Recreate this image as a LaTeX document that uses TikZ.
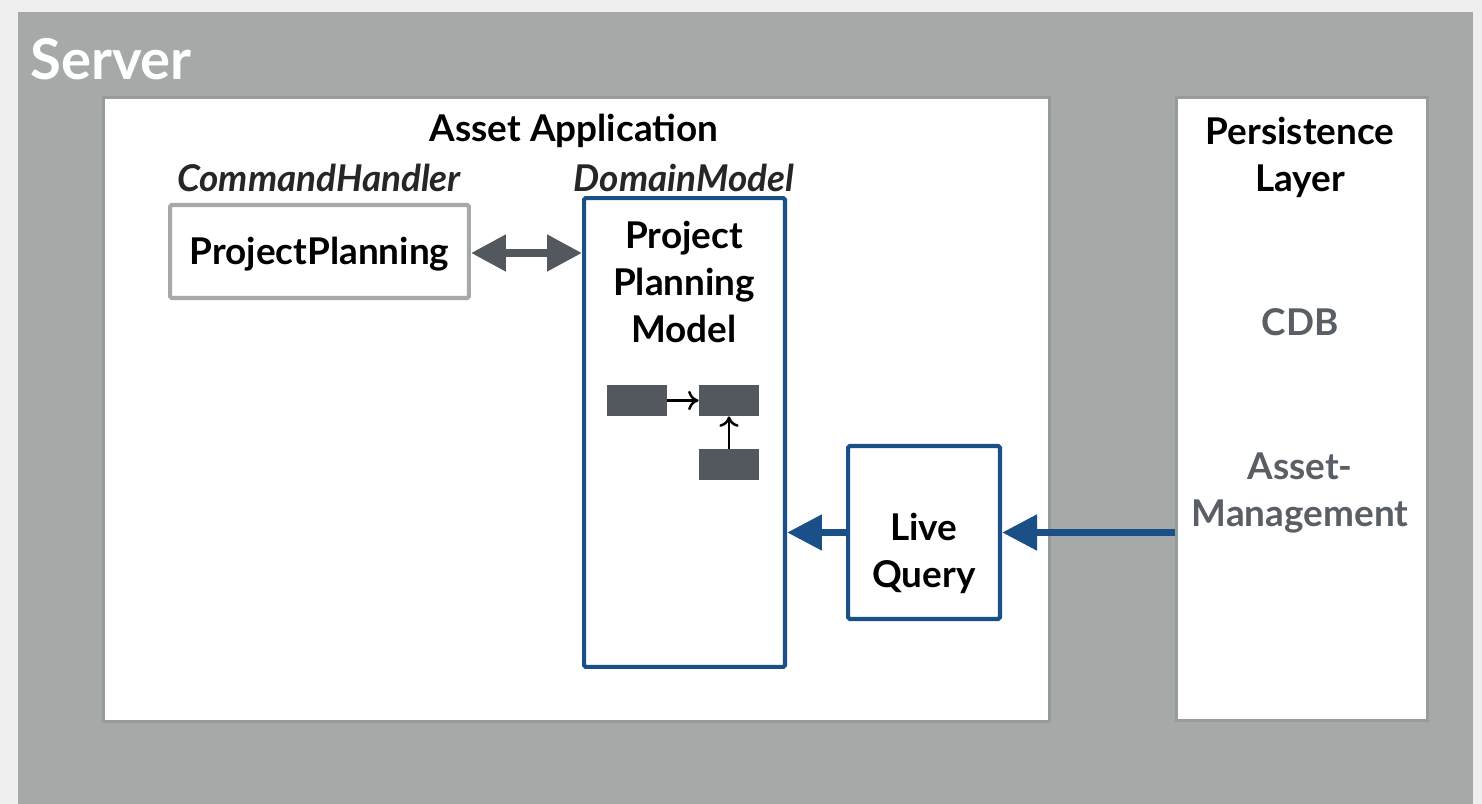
\documentclass[tikz,border=0pt]{standalone}
\usepackage{fontspec}
\setmainfont{Lato}
\usetikzlibrary{arrows.meta,positioning}
\definecolor{pagegrey}{HTML}{EFEFEF}
\definecolor{servergrey}{HTML}{A5A9A8}
\definecolor{edgegrey}{HTML}{979B9A}
\definecolor{modelblue}{HTML}{1B4F87}
\definecolor{slate}{HTML}{53575E}
\definecolor{labelgrey}{HTML}{5A5E65}
\tikzset{
  panel/.style={draw=edgegrey, line width=1.6pt, fill=white, anchor=north west, inner sep=0pt},
  greybox/.style={draw=servergrey, line width=2.3pt, fill=white, rounded corners=1pt},
  bluebox/.style={draw=modelblue, line width=2.3pt, fill=white, rounded corners=1pt},
  entity/.style={fill=slate, minimum width=1.2cm, minimum height=0.62cm, inner sep=0pt},
  txt/.style={font=\fontsize{21}{26.7}\selectfont\bfseries, align=center, inner sep=0pt},
  softtxt/.style={txt, text=labelgrey},
  roletxt/.style={txt, font=\fontsize{21}{26.7}\selectfont\bfseries\itshape, text=black!85},
  bigflow/.style={line width=4.5pt, -{Triangle[length=0.7cm, width=0.68cm]}},
  link/.style={line width=1.4pt, -{To[length=6pt, width=11pt]}},
}
\begin{document}
\begin{tikzpicture}[x=0.02cm, y=-0.02cm]
    \useasboundingbox (0,0) rectangle (1482,804);
    % Draw the background and the server area.
    \fill[pagegrey] (0,0) rectangle (1482,804);
    \fill[servergrey] (18,12) rectangle (1473,810);
    \node[anchor=base west, inner sep=0pt, text=white, font=\fontsize{32}{38}\selectfont\bfseries] (srvname) at (30,80) {Server};
    % Draw the two panels.
    \node[panel, minimum width=18.92cm, minimum height=12.48cm] (app) at (102,96) {};
    \node[panel, minimum width=5.02cm, minimum height=12.46cm] (persist) at (1175,96) {};
    \node[txt] (apptitle) at (574,131) {Asset Application};
    \node[txt] (persisttitle) at (1300,157) {Persistence\\Layer};
    \node[softtxt] (cdb) at (1300,322) {CDB};
    \node[softtxt] (assetmgmt) at (1300,493) {Asset-\\Management};
    % Specify the command handler.
    \node[roletxt] (handlerrole) at (319,178) {CommandHandler};
    \node[greybox, txt, text depth=1pt, minimum width=5.98cm, minimum height=1.86cm] (planning) at (319.5,251.5) {ProjectPlanning};
    % Specify the domain model.
    \node[roletxt] (modelrole) at (684,178) {DomainModel};
    \node[bluebox, minimum width=4.02cm, minimum height=9.38cm] (model) at (684.5,432.5) {};
    \node[txt] (modeltitle) at (684,282) {Project\\Planning\\Model};
    \node[entity] (entA) at (637,400.5) {};
    \node[entity] (entB) at (729,400.5) {};
    \node[entity] (entC) at (729,464.5) {};
    \draw[link] (entA) -- (entB);
    \draw[link] (entC) -- (entB);
    % Specify the live query.
    \node[bluebox, minimum width=3.04cm, minimum height=3.46cm] (query) at (924,532.5) {};
    \node[txt] (querytitle) at (924,553) {Live\\Query};
    % Draw the flows.
    \draw[bigflow, slate, {Triangle[length=0.7cm, width=0.7cm]}-{Triangle[length=0.7cm, width=0.7cm]}] (planning.east |- 0,253) -- (model.west |- 0,253);
    \draw[bigflow, modelblue] (query.west) -- (model.east |- query.west);
    \draw[bigflow, modelblue] (persist.west |- query.east) -- (query.east);
\end{tikzpicture}
\end{document}
